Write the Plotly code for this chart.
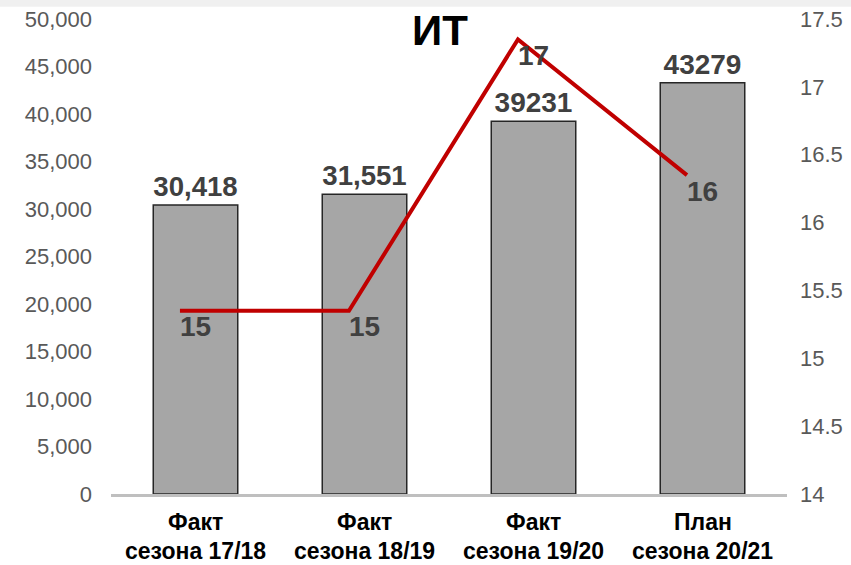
import plotly.graph_objects as go

categories = ["Факт<br>сезона 17/18", "Факт<br>сезона 18/19", "Факт<br>сезона 19/20", "План<br>сезона 20/21"]
cat_line1 = ["Факт", "Факт", "Факт", "План"]
cat_line2 = ["сезона 17/18", "сезона 18/19", "сезона 19/20", "сезона 20/21"]
bar_values = [30418, 31551, 39231, 43279]
bar_labels = ["30,418", "31,551", "39231", "43279"]
line_values = [15.35, 15.35, 17.35, 16.35]
left_ticks = [0, 5000, 10000, 15000, 20000, 25000, 30000, 35000, 40000, 45000, 50000]
right_ticks = [14, 14.5, 15, 15.5, 16, 16.5, 17, 17.5]
title_text = "ИТ"

FONT = "Liberation Sans, Arial, sans-serif"

fig = go.Figure()

fig.add_trace(go.Bar(
    x=categories, y=bar_values, width=0.5,
    marker=dict(color="#A6A6A6", line=dict(color="#262626", width=1.5)),
    text=bar_labels, textposition="outside", cliponaxis=False,
    textfont=dict(family=FONT, size=28, color="#404040", weight="bold"),
    showlegend=False, hoverinfo="skip",
))

fig.add_trace(go.Scatter(
    x=categories, y=line_values, mode="lines", xaxis="x2", yaxis="y2",
    line=dict(color="#C00000", width=4), showlegend=False, cliponaxis=False,
))

for i, c in enumerate(categories):
    fig.add_annotation(x=c, y=line_values[i], xref="x", yref="y2", text=f"{line_values[i]:.0f}",
                       showarrow=False, yanchor="middle", yshift=-16,
                       font=dict(family=FONT, size=28, color="#404040", weight="bold"))
    fig.add_annotation(x=c, y=0, xref="x", yref="paper", text=cat_line1[i],
                       showarrow=False, yanchor="middle", yshift=-28,
                       font=dict(family=FONT, size=23, color="#000000", weight="bold"))
    fig.add_annotation(x=c, y=0, xref="x", yref="paper", text=cat_line2[i],
                       showarrow=False, yanchor="middle", yshift=-57,
                       font=dict(family=FONT, size=23, color="#000000", weight="bold"))

fig.add_annotation(x=0.487, y=1.0, xref="paper", yref="paper", text=title_text,
                   showarrow=False, yanchor="middle", yshift=-11,
                   font=dict(family=FONT, size=42, color="#000000", weight="bold"))

fig.add_shape(type="rect", xref="paper", yref="paper", x0=-0.2, x1=1.2, y0=1.026, y1=1.045,
              fillcolor="#F0F0F0", line=dict(width=0), layer="below")

fig.update_layout(
    width=851, height=565,
    margin=dict(l=111, r=64, t=19, b=71, autoexpand=False),
    paper_bgcolor="white", plot_bgcolor="white",
    bargap=0.5,
    xaxis=dict(type="category", range=[-0.5, 3.5], showticklabels=False, showgrid=False,
               showline=True, linecolor="#BFBFBF", linewidth=3, zeroline=False, ticks="",
               automargin=False),
    xaxis2=dict(type="category", overlaying="x", range=[-0.408, 3.592], visible=False),
    yaxis=dict(range=[0, 50000], tickvals=left_ticks, tickformat=",d", showgrid=False,
               zeroline=False, ticks="", ticklabelstandoff=18, automargin=False,
               tickfont=dict(family=FONT, size=22, color="#595959")),
    yaxis2=dict(range=[14, 17.5], tickvals=right_ticks, overlaying="y", side="right",
                showgrid=False, zeroline=False, ticks="", ticklabelstandoff=12, automargin=False,
                tickfont=dict(family=FONT, size=22, color="#595959")),
)

fig.write_html("out.html", config={"displayModeBar": False},
               post_script="document.body.style.margin='0';")
